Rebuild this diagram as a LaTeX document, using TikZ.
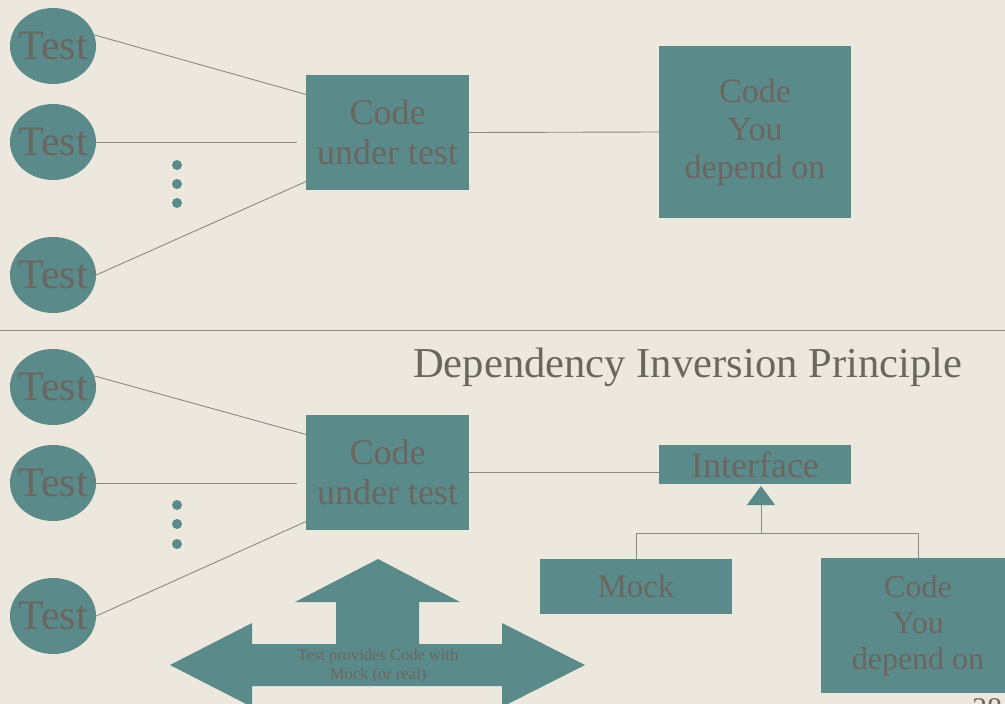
\documentclass[tikz,border=0pt]{standalone}
\usepackage{fontspec}
\setmainfont{Liberation Serif}
\usetikzlibrary{shapes.geometric,arrows.meta}
\definecolor{slidebg}{HTML}{ECE8DE}
\definecolor{boxteal}{HTML}{5B8A8A}
\definecolor{boxtext}{HTML}{6B6660}
\definecolor{titletext}{HTML}{6A675F}
\definecolor{wirecol}{HTML}{8A8A8A}

\begin{document}
\begin{tikzpicture}[x=1pt,y=-1pt,
    test/.style={ellipse,fill=boxteal,minimum width=86pt,minimum height=76pt,inner sep=0pt,
      text=boxtext,font=\fontsize{42}{42}\selectfont},
    block/.style={rectangle,fill=boxteal,inner sep=0pt,text=boxtext,align=center},
    wire/.style={draw=wirecol,line width=0.9pt},
    dot/.style={circle,fill=boxteal,minimum size=10pt,inner sep=0pt}]
  \fill[slidebg] (0,0) rectangle (1005,704);
  \clip (0,0) rectangle (1005,704);

  % without the principle
  \node[test] (t1) at (53,46) {\makebox[0pt]{Test}};
  \node[test] (t2) at (53,142) {\makebox[0pt]{Test}};
  \node[test] (t3) at (53,275) {\makebox[0pt]{Test}};
  \foreach \y in {165,184,203}
    \node[dot] (d\y) at (177,\y) {};
  \node[block,minimum width=163pt,minimum height=115pt,font=\fontsize{36}{40}\selectfont]
    (cut) at (387.5,132.5) {Code\\under test};
  \node[block,minimum width=192pt,minimum height=172pt,font=\fontsize{34}{38}\selectfont]
    (dep) at (755,132) {Code\\You\\depend on};
  \draw[wire] (t1.15) -- (cut.155);
  \draw[wire,shorten >=9pt] (t2.east) -- (t2.east -| cut.west);
  \draw[wire] (t3.east) -- (cut.211);
  \draw[wire] (cut.east) -- (dep.west);

  \coordinate (sepl) at (0,330);
  \coordinate (sepr) at (1005,330);
  \draw[wire] (sepl) -- (sepr);

  % with the principle
  \node[text=titletext,font=\fontsize{42.6}{44}\selectfont,anchor=base west,inner sep=0pt]
    (title) at (413,377) {Dependency Inversion Principle};
  \node[test] (u1) at (53,387) {\makebox[0pt]{Test}};
  \node[test] (u2) at (53,483) {\makebox[0pt]{Test}};
  \node[test] (u3) at (53,616) {\makebox[0pt]{Test}};
  \foreach \y in {505,524,544}
    \node[dot] (e\y) at (177,\y) {};
  \node[block,minimum width=163pt,minimum height=115pt,font=\fontsize{36}{40}\selectfont]
    (cut2) at (387.5,472.5) {Code\\under test};
  \node[block,minimum width=192pt,minimum height=39pt,font=\fontsize{36}{36}\selectfont]
    (iface) at (755,464.5) {Interface};
  \node[block,minimum width=192pt,minimum height=55pt,font=\fontsize{33}{36}\selectfont]
    (mock) at (636,586.5) {Mock};
  \node[block,minimum width=194pt,minimum height=135pt,font=\fontsize{32}{36}\selectfont]
    (dep2) at (918,625.5) {Code\\You\\depend on};
  \draw[wire] (u1.15) -- (cut2.155);
  \draw[wire,shorten >=9pt] (u2.east) -- (u2.east -| cut2.west);
  \draw[wire] (u3.east) -- (cut2.211);
  \draw[wire] (cut2.east) -- (cut2.east -| iface.west);

  \coordinate (jn) at (761,533);
  \coordinate (tip) at (761,486);
  \draw[wire,-{Triangle[width=28pt,length=19pt,color=boxteal]}] (jn) -- (tip);
  \draw[wire] (mock.north) -- (mock.north |- jn) -- (dep2.north |- jn) -- (dep2.north);

  % big arrow
  \fill[boxteal] (170,665) -- (252,623) -- (252,644) -- (336,644) -- (336,602) -- (295,602)
    -- (378,559) -- (460,602) -- (419,602) -- (419,644) -- (502,644) -- (502,623)
    -- (585,665) -- (502,707) -- (502,686) -- (252,686) -- (252,707) -- cycle;
  \node[text=boxtext,font=\fontsize{16.5}{19}\selectfont,align=center] (note) at (378,666)
    {Test provides Code with\\Mock (or real)};

  \node[text=titletext,font=\fontsize{30}{30}\selectfont,anchor=base,inner sep=0pt]
    (pgno) at (987,718) {38};
\end{tikzpicture}
\end{document}
